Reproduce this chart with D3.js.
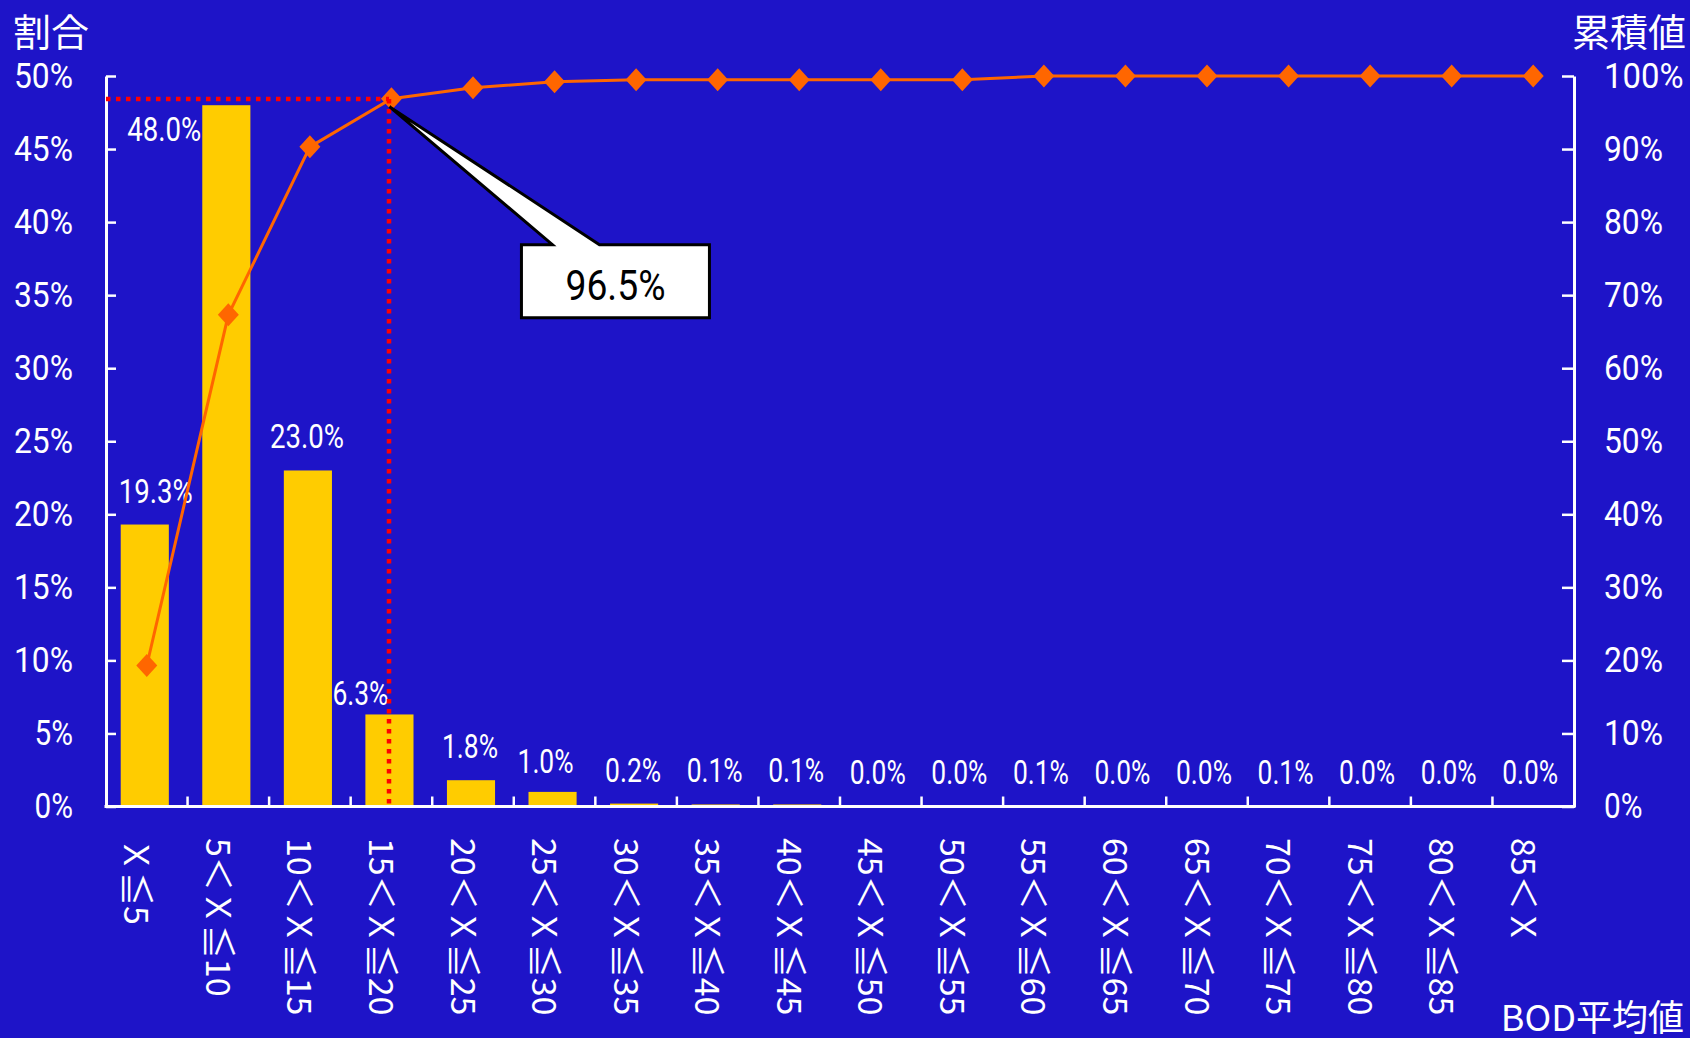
<!DOCTYPE html>
<html>
<head>
<meta charset="utf-8">
<script src="https://cdn.jsdelivr.net/npm/d3@7"></script>
<style>
  html, body { margin: 0; padding: 0; background: #1E14C8; }
  svg { display: block; }
</style>
</head>
<body>
<svg id="chart" width="1690" height="1038"></svg>
<script>
// ---------------- data ----------------
const categories = [
  "Ｘ≦5", "5＜Ｘ≦10", "10＜Ｘ≦15", "15＜Ｘ≦20", "20＜Ｘ≦25", "25＜Ｘ≦30",
  "30＜Ｘ≦35", "35＜Ｘ≦40", "40＜Ｘ≦45", "45＜Ｘ≦50", "50＜Ｘ≦55", "55＜Ｘ≦60",
  "60＜Ｘ≦65", "65＜Ｘ≦70", "70＜Ｘ≦75", "75＜Ｘ≦80", "80＜Ｘ≦85", "85＜Ｘ"
];
const shareValues = [19.3, 48.0, 23.0, 6.3, 1.8, 1.0, 0.2, 0.14, 0.14, 0.0, 0.0, 0.06, 0.0, 0.0, 0.06, 0.0, 0.0, 0.0];
const cumulativeValues = [19.3, 67.3, 90.3, 96.9, 98.4, 99.2, 99.5, 99.5, 99.5, 99.5, 99.5, 100, 100, 100, 100, 100, 100, 100];
const leftTicks = [0, 5, 10, 15, 20, 25, 30, 35, 40, 45, 50];
const rightTicks = [0, 10, 20, 30, 40, 50, 60, 70, 80, 90, 100];
const leftTitle = "割合";
const rightTitle = "累積値";
const xTitle = "BOD平均値";
const calloutIndex = 3;
const calloutText = "96.5%";

// ---------------- layout / style ----------------
const W = 1690, H = 1038;
const plot = { left: 106, right: 1574, top: 76, bottom: 806.5 };
const C = { bg: "#1E14C8", bar: "#FFCC00", line: "#FF6600", red: "#FF0000", text: "#FFFFFF" };
const numFont = "Roboto, 'Liberation Sans', sans-serif";
const jpFont = "'Noto Sans CJK JP', 'Noto Sans CJK SC', sans-serif";

// label nudges (layout only)
const labelNudges = { 0: { dx: 11, dy: -22 }, 1: { dx: -62, dy: 36 }, 3: { dx: -29, dy: -9 }, 5: { dx: -7, dy: -19 } };

function fitWidth(s, dW, dotW, pctW) {
  let w = 0;
  for (const ch of s) {
    if (ch >= "0" && ch <= "9") w += dW;
    else if (ch === ".") w += dotW;
    else if (ch === "%") w += pctW;
    else w += dW;
  }
  return w;
}

const svg = d3.select("#chart");
svg.append("rect").attr("width", W).attr("height", H).attr("fill", C.bg);

const x = d3.scaleBand().domain(categories).range([plot.left, plot.right]).padding(0);
const y = d3.scaleLinear().domain([0, 50]).range([plot.bottom, plot.top]);
const y2 = d3.scaleLinear().domain([0, 100]).range([plot.bottom, plot.top]);
const bw = x.bandwidth();
const barW = bw * 0.59;
const barCenter = c => x(c) + bw / 2 - 2;
const pointX = c => x(c) + bw / 2;
const pct = v => d3.format(".1f")(v) + "%";

// bars
svg.append("g").selectAll("rect").data(categories).join("rect")
  .attr("x", c => barCenter(c) - barW / 2)
  .attr("width", barW)
  .attr("y", (c, i) => y(shareValues[i]))
  .attr("height", (c, i) => plot.bottom - y(shareValues[i]))
  .attr("fill", C.bar);

// data labels
svg.append("g").selectAll("text").data(categories).join("text")
  .each(function (c, i) {
    const n = labelNudges[i] || { dx: -1, dy: -22 };
    const s = pct(shareValues[i]);
    d3.select(this)
      .attr("x", barCenter(c) + n.dx)
      .attr("y", Math.min(y(shareValues[i]), plot.bottom - 1) + n.dy)
      .attr("text-anchor", "middle")
      .attr("font-family", numFont)
      .attr("font-size", 33)
      .attr("fill", C.text)
      .attr("textLength", fitWidth(s, 18, 5, 15))
      .attr("lengthAdjust", "spacingAndGlyphs")
      .text(s);
  });

// axes
const axisStyle = g => {
  g.select(".domain").attr("stroke", C.text).attr("stroke-width", 3);
  g.selectAll(".tick line").attr("stroke", C.text).attr("stroke-width", 2.5);
  g.selectAll(".tick text").attr("fill", C.text).attr("font-family", numFont).attr("font-size", 35)
    .each(function () {
      const t = d3.select(this);
      t.attr("textLength", fitWidth(t.text(), 20.5, 5, 18)).attr("lengthAdjust", "spacingAndGlyphs");
    });
};
svg.append("g").attr("transform", `translate(${plot.left},0)`)
  .call(d3.axisLeft(y).tickValues(leftTicks).tickFormat(d => d + "%").tickSizeInner(-10).tickSizeOuter(0).tickPadding(33))
  .call(axisStyle);
svg.append("g").attr("transform", `translate(${plot.right},0)`)
  .call(d3.axisRight(y2).tickValues(rightTicks).tickFormat(d => d + "%").tickSizeInner(-12).tickSizeOuter(0).tickPadding(30))
  .call(axisStyle);

// x axis: line plus boundary ticks
const xg = svg.append("g");
xg.append("line").attr("x1", plot.left - 1.5).attr("x2", plot.right + 1.5)
  .attr("y1", plot.bottom).attr("y2", plot.bottom).attr("stroke", C.text).attr("stroke-width", 3);
xg.selectAll("line.tk").data(categories.slice(1)).join("line").attr("class", "tk")
  .attr("x1", c => x(c)).attr("x2", c => x(c))
  .attr("y1", plot.bottom).attr("y2", plot.bottom - 10)
  .attr("stroke", C.text).attr("stroke-width", 2.5);

// x category labels (rotated)
xg.selectAll("text").data(categories).join("text")
  .attr("transform", c => `translate(${x(c) + bw / 2 - 8},838) rotate(90)`)
  .attr("dominant-baseline", "central")
  .attr("text-anchor", "start")
  .attr("font-family", jpFont)
  .attr("font-size", 34)
  .attr("fill", C.text)
  .text(c => c);

// cumulative line
const line = d3.line().x((d, i) => pointX(categories[i])).y(d => y2(d));
svg.append("path").datum(cumulativeValues).attr("d", line)
  .attr("fill", "none").attr("stroke", C.line).attr("stroke-width", 3);
svg.append("g").selectAll("path").data(cumulativeValues).join("path")
  .attr("transform", (d, i) => `translate(${pointX(categories[i])},${y2(d)})`)
  .attr("d", "M0,-11.5L10.5,0L0,11.5L-10.5,0Z")
  .attr("fill", C.line);

// red dotted guide lines
const gx = Math.round(barCenter(categories[calloutIndex]));
const gy = Math.round(y2(cumulativeValues[calloutIndex]));
svg.append("line").attr("x1", plot.left).attr("x2", gx).attr("y1", gy).attr("y2", gy)
  .attr("stroke", C.red).attr("stroke-width", 4.5).attr("stroke-dasharray", "4.5,5.5");
svg.append("line").attr("x1", gx).attr("x2", gx).attr("y1", gy).attr("y2", plot.bottom)
  .attr("stroke", C.red).attr("stroke-width", 4.5).attr("stroke-dasharray", "4.5,5.5");

// callout
const mx = pointX(categories[calloutIndex]), my = y2(cumulativeValues[calloutIndex]);
const tip = [mx - 2, my + 8];
const bx0 = mx + 130, bx1 = mx + 318, by0 = my + 146, by1 = my + 219;
const cp = d3.path();
cp.moveTo(bx0, by0);
cp.lineTo(mx + 161, by0);
cp.lineTo(tip[0], tip[1]);
cp.lineTo(mx + 208, by0);
cp.lineTo(bx1, by0);
cp.lineTo(bx1, by1);
cp.lineTo(bx0, by1);
cp.closePath();
svg.append("path").attr("d", cp.toString()).attr("fill", "#FFFFFF").attr("stroke", "#000000")
  .attr("stroke-width", 3).attr("stroke-linejoin", "miter");
svg.append("text").attr("x", (bx0 + bx1) / 2).attr("y", by1 - 18)
  .attr("text-anchor", "middle").attr("font-family", numFont).attr("font-size", 42)
  .attr("fill", "#000000")
  .attr("textLength", fitWidth(calloutText, 24, 6, 22)).attr("lengthAdjust", "spacingAndGlyphs")
  .text(calloutText);

// titles
svg.append("text").attr("x", 13).attr("y", 46).attr("font-family", jpFont).attr("font-size", 38)
  .attr("fill", C.text).text(leftTitle);
svg.append("text").attr("x", 1686).attr("y", 46).attr("text-anchor", "end").attr("font-family", jpFont)
  .attr("font-size", 38).attr("fill", C.text).text(rightTitle);
svg.append("text").attr("x", 1684).attr("y", 1031).attr("text-anchor", "end").attr("font-family", jpFont)
  .attr("font-size", 36).attr("fill", C.text).text(xTitle);
</script>
</body>
</html>
